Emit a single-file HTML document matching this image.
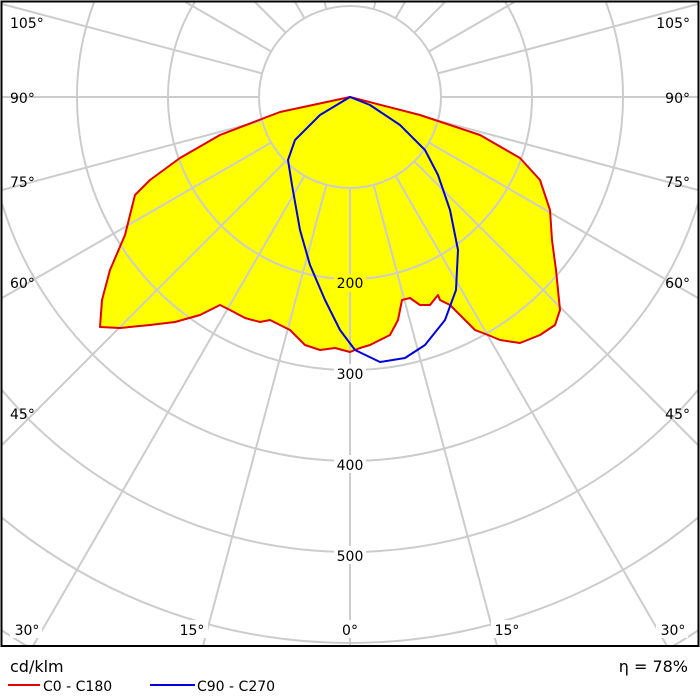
<!DOCTYPE html>
<html><head><meta charset="utf-8"><style>
html,body{margin:0;padding:0;background:#fff;overflow:hidden;width:700px;height:700px}
svg{display:block}
svg text{font-family:"DejaVu Sans",Verdana,sans-serif;font-size:14px;fill:#000}
</style></head><body>
<svg width="700" height="700" viewBox="0 0 700 700">
<path d="M350,97 L420,115 L480,135 L520,158 L540,180 L550,210 L552,240 L556,270 L560,310 L555,325 L540,335 L520,343 L500,340 L488,335 L475,330 L460,315 L450,305 L440,300 L438,295 L430,305 L420,305 L410,298 L402,300 L398,320 L390,335 L380,340 L370,345 L360,348 L350,352 L335,348 L320,350 L305,345 L290,330 L280,325 L270,320 L260,322 L245,318 L230,310 L220,305 L200,315 L175,322 L150,325 L120,328 L100,327 L102,300 L110,270 L125,235 L135,195 L150,180 L180,158 L220,135 L280,112 Z" fill="#ffff00"/>
<g stroke="#cccccc" stroke-width="2" fill="none">
<circle cx="350" cy="97" r="91"/>
<path d="M194.8,2 A182,182 0 1 0 505.2,2"/>
<path d="M94.1,2 A273,273 0 1 0 605.9,2"/>
<path d="M2,203.7 A364,364 0 0 0 698,203.7"/>
<path d="M2,390.1 A455,455 0 0 0 698,390.1"/>
<path d="M2,517.7 A546,546 0 0 0 698,517.7"/>
<path d="M2,630.5 A637,637 0 0 0 26.9,646"/>
<path d="M673.1,646 A637,637 0 0 0 698,630.5"/>
<line x1="350" y1="188" x2="350" y2="646"/>
<line x1="373.6" y1="184.9" x2="497" y2="646"/>
<line x1="326.4" y1="184.9" x2="203" y2="646"/>
<line x1="395.5" y1="175.8" x2="667" y2="646"/>
<line x1="304.5" y1="175.8" x2="33" y2="646"/>
<line x1="414.3" y1="161.3" x2="698" y2="445"/>
<line x1="285.7" y1="161.3" x2="2" y2="445"/>
<line x1="428.8" y1="142.5" x2="698" y2="298"/>
<line x1="271.2" y1="142.5" x2="2" y2="298"/>
<line x1="437.9" y1="120.6" x2="698" y2="190"/>
<line x1="262.1" y1="120.6" x2="2" y2="190"/>
<line x1="441" y1="97" x2="698" y2="97"/>
<line x1="259" y1="97" x2="2" y2="97"/>
<line x1="437.9" y1="73.4" x2="698" y2="4"/>
<line x1="262.1" y1="73.4" x2="2" y2="4"/>
<line x1="428.8" y1="51.5" x2="514.5" y2="2"/>
<line x1="271.2" y1="51.5" x2="185.5" y2="2"/>
<line x1="414.3" y1="32.7" x2="445" y2="2"/>
<line x1="285.7" y1="32.7" x2="255" y2="2"/>
<line x1="395.5" y1="18.2" x2="405" y2="2"/>
<line x1="304.5" y1="18.2" x2="295" y2="2"/>
<line x1="373.6" y1="9.1" x2="375.4" y2="2"/>
<line x1="326.4" y1="9.1" x2="324.6" y2="2"/>
</g>
<path d="M350,97 L420,115 L480,135 L520,158 L540,180 L550,210 L552,240 L556,270 L560,310 L555,325 L540,335 L520,343 L500,340 L488,335 L475,330 L460,315 L450,305 L440,300 L438,295 L430,305 L420,305 L410,298 L402,300 L398,320 L390,335 L380,340 L370,345 L360,348 L350,352 L335,348 L320,350 L305,345 L290,330 L280,325 L270,320 L260,322 L245,318 L230,310 L220,305 L200,315 L175,322 L150,325 L120,328 L100,327 L102,300 L110,270 L125,235 L135,195 L150,180 L180,158 L220,135 L280,112 Z" fill="none" stroke="#e00000" stroke-width="2" stroke-linejoin="round"/>
<path d="M350,97 L320,115 L295,140 L288,160 L292,185 L300,230 L310,265 L325,300 L340,330 L355,350 L380,362 L405,358 L425,345 L445,320 L456,290 L458,250 L450,210 L438,175 L425,150 L400,125 L370,105 Z" fill="none" stroke="#0000dd" stroke-width="2" stroke-linejoin="round"/>
<g text-anchor="middle">
<rect x="334" y="274" width="32" height="18" fill="#ffff00"/><text x="350" y="288">200</text>
<rect x="334" y="364" width="32" height="18" fill="#fff"/><text x="350" y="379">300</text>
<rect x="334" y="455" width="32" height="18" fill="#fff"/><text x="350" y="470">400</text>
<rect x="334" y="546" width="32" height="18" fill="#fff"/><text x="350" y="561">500</text>
<rect x="336" y="620" width="28" height="18" fill="#fff"/><text x="350" y="635">0°</text>
<rect x="176" y="620" width="32" height="18" fill="#fff"/><text x="192" y="635">15°</text>
<rect x="491" y="620" width="32" height="18" fill="#fff"/><text x="507" y="635">15°</text>
<rect x="10" y="620" width="32" height="18" fill="#fff"/><text x="27" y="635">30°</text>
<rect x="656" y="620" width="32" height="18" fill="#fff"/><text x="673" y="635">30°</text>
</g>
<g>
<text x="10" y="419">45°</text><text x="10" y="288">60°</text><text x="10" y="187">75°</text><text x="10" y="103">90°</text><text x="10" y="28">105°</text>
</g>
<g text-anchor="end">
<text x="690" y="419">45°</text><text x="690" y="288">60°</text><text x="690" y="187">75°</text><text x="690" y="103">90°</text><text x="690" y="28">105°</text>
</g>
<rect x="1.5" y="1.5" width="697" height="644.5" fill="none" stroke="#000" stroke-width="2"/>
<text x="10" y="672" style="font-size:16px">cd/klm</text>
<text x="688" y="672" text-anchor="end" style="font-size:16px">η = 78%</text>
<line x1="8" y1="685" x2="40" y2="685" stroke="#e00000" stroke-width="2"/>
<text x="43" y="691">C0 - C180</text>
<line x1="150" y1="685" x2="195" y2="685" stroke="#0000dd" stroke-width="2"/>
<text x="197" y="691">C90 - C270</text>
</svg>
</body></html>
